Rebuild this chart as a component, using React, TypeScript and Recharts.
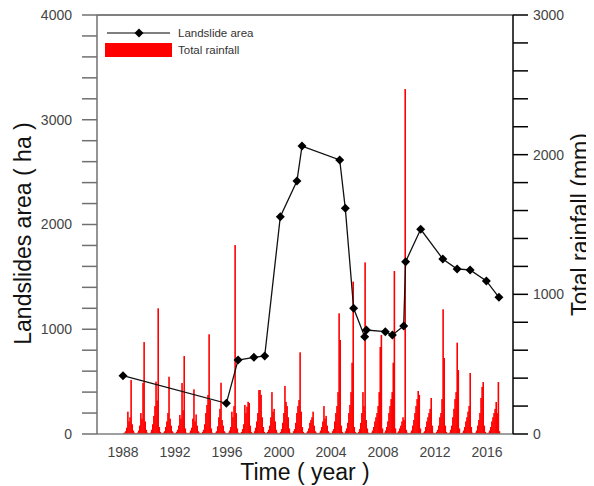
import { ComposedChart, Bar, Line, XAxis, YAxis, Legend, ReferenceLine } from 'recharts'

const FONT = '"Liberation Sans", Arial, sans-serif'

// landslide survey points (fractional year, ha)
const landslideYears = [
  1988.0, 1995.95, 1996.85, 1998.07, 1998.9, 2000.1, 2001.38, 2001.77, 2004.67, 2005.1, 2005.74,
  2006.59, 2006.72, 2008.18, 2008.72, 2009.59, 2009.74, 2010.9, 2012.6, 2013.7, 2014.7, 2015.95, 2016.92,
]
const landslideArea = [
  557, 293, 706, 732, 745, 2074, 2415, 2749, 2616, 2154, 1200,
  929, 993, 977, 945, 1031, 1645, 1954, 1671, 1575, 1566, 1461, 1305,
]

// monthly rainfall (mm), one row per year, Jan..Dec
const rainStartYear = 1988
const monthlyRainfall = [
  [5, 10, 20, 45, 160, 90, 120, 387, 70, 25, 10, 5], // 1988
  [5, 10, 25, 60, 150, 110, 365, 658, 90, 30, 10, 5], // 1989
  [5, 10, 30, 70, 130, 200, 375, 240, 900, 50, 15, 5], // 1990
  [5, 10, 20, 50, 90, 150, 410, 110, 60, 20, 10, 5], // 1991
  [5, 15, 30, 60, 136, 110, 365, 170, 558, 40, 10, 5], // 1992
  [5, 10, 25, 45, 110, 320, 90, 140, 60, 20, 10, 5], // 1993
  [5, 15, 30, 70, 150, 208, 280, 714, 243, 40, 10, 5], // 1994
  [5, 10, 20, 55, 120, 180, 367, 100, 60, 20, 10, 5], // 1995
  [5, 10, 25, 50, 160, 120, 200, 1353, 150, 40, 10, 5], // 1996
  [5, 15, 35, 70, 208, 150, 196, 231, 222, 60, 15, 5], // 1997
  [5, 20, 45, 90, 150, 315, 315, 280, 120, 50, 15, 5], // 1998
  [5, 15, 30, 60, 120, 300, 160, 180, 90, 30, 10, 5], // 1999
  [5, 15, 35, 80, 150, 344, 230, 200, 120, 40, 10, 5], // 2000
  [5, 20, 35, 80, 150, 200, 243, 585, 160, 50, 15, 5], // 2001
  [5, 10, 20, 40, 80, 100, 120, 160, 60, 20, 10, 5], // 2002
  [5, 10, 25, 50, 90, 200, 110, 130, 60, 20, 10, 5], // 2003
  [5, 20, 35, 90, 150, 200, 300, 864, 673, 60, 15, 5], // 2004
  [5, 20, 40, 80, 150, 208, 300, 510, 1091, 50, 15, 5], // 2005
  [5, 15, 35, 80, 150, 300, 200, 1229, 100, 40, 10, 5], // 2006
  [5, 10, 25, 50, 90, 120, 150, 200, 300, 623, 709, 40], // 2007
  [5, 10, 25, 50, 90, 150, 200, 250, 300, 510, 1167, 40], // 2008
  [5, 10, 20, 40, 60, 90, 120, 100, 2470, 30, 10, 5], // 2009
  [5, 10, 25, 60, 100, 150, 200, 250, 308, 280, 40, 5], // 2010
  [5, 10, 20, 50, 90, 120, 150, 180, 258, 60, 10, 5], // 2011
  [5, 15, 30, 60, 120, 150, 250, 893, 544, 60, 15, 5], // 2012
  [5, 10, 30, 60, 120, 180, 250, 300, 654, 458, 40, 5], // 2013
  [5, 10, 25, 50, 90, 120, 160, 200, 437, 50, 10, 5], // 2014
  [5, 10, 25, 60, 100, 150, 258, 337, 372, 60, 15, 5], // 2015
  [5, 10, 25, 50, 90, 120, 150, 180, 229, 150, 372, 20], // 2016
]

const xTicks = [1988, 1992, 1996, 2000, 2004, 2008, 2012, 2016]
const leftTicks = Array.from({ length: 21 }, (_, i) => i * 200)
const rightTicks = Array.from({ length: 16 }, (_, i) => i * 200)

const rainData = monthlyRainfall.flatMap((row, yi) =>
  row.map((rain, m) => ({ x: rainStartYear + yi + (m + 0.5) / 12, rain }))
)
const areaData = landslideYears.map((x, i) => ({ x, area: landslideArea[i] }))

function Diamond(props: any) {
  const { cx, cy } = props
  if (cx == null || cy == null) return <g />
  const r = 4.5
  return <path d={`M${cx},${cy - r}L${cx + r},${cy}L${cx},${cy + r}L${cx - r},${cy}Z`} fill="#000" />
}

// thin spike bar, centred on the month position
function Spike(props: any) {
  const { x, y, width, height } = props
  if (height == null || height <= 0) return <g />
  const w = 1.6
  return <rect x={x + width / 2 - w / 2} y={y} width={w} height={height} fill="#ff0000" />
}

function LegendBox() {
  return (
    <svg width={200} height={36} style={{ display: 'block', fontFamily: FONT }}>
      <line x1={2} y1={8} x2={65} y2={8} stroke="#000" strokeWidth={1.2} />
      <path d="M34,3.5L38.5,8L34,12.5L29.5,8Z" fill="#000" />
      <text x={73} y={12} fontSize={11.5} fill="#333">Landslide area</text>
      <rect x={0} y={18} width={67} height={14} fill="#ff0000" />
      <text x={73} y={29} fontSize={11.5} fill="#333">Total rainfall</text>
    </svg>
  )
}

const leftTitle = ({ viewBox }: any) => {
  const x = viewBox.x + 15
  const y = viewBox.y + viewBox.height / 2 + 9
  return (
    <text x={x} y={y} transform={`rotate(-90, ${x}, ${y})`} textAnchor="middle" dominantBaseline="central"
      fontSize={23} fill="#111" fontFamily={FONT}>Landslides area ( ha )</text>
  )
}

const rightTitle = ({ viewBox }: any) => {
  const x = viewBox.x + 67
  const y = viewBox.y + viewBox.height / 2
  return (
    <text x={x} y={y} transform={`rotate(-90, ${x}, ${y})`} textAnchor="middle" dominantBaseline="central"
      fontSize={23} fill="#111" fontFamily={FONT}>Total rainfall (mm)</text>
  )
}

const bottomTitle = ({ viewBox }: any) => (
  <text x={viewBox.x + viewBox.width / 2} y={viewBox.y + 38} textAnchor="middle" dominantBaseline="central"
    fontSize={23} fill="#111" fontFamily={FONT}>Time ( year )</text>
)

export default function App() {
  return (
    <div style={{ width: 586, height: 478, fontFamily: FONT }}>
      <ComposedChart width={586} height={478} data={rainData} margin={{ top: 7, right: 8, bottom: 8, left: 0 }}>
        <XAxis
          dataKey="x"
          type="number"
          domain={[1986, 2018]}
          allowDataOverflow
          ticks={xTicks}
          interval={0}
          height={44}
          tickLine={false}
          tickSize={6}
          tickMargin={7}
          stroke="#808080"
          strokeWidth={1.5}
          tick={{ fill: '#444', fontSize: 14, fontFamily: FONT }}
          label={bottomTitle}
        />
        <YAxis
          yAxisId="left"
          domain={[0, 4000]}
          ticks={leftTicks}
          interval={0}
          width={89}
          tickSize={15}
          tickMargin={10}
          stroke="#707070"
          strokeWidth={1.5}
          tickFormatter={(v: number) => (v % 1000 === 0 ? String(v) : '')}
          tick={{ fill: '#444', fontSize: 14, fontFamily: FONT }}
          label={leftTitle}
        />
        <YAxis
          yAxisId="right"
          orientation="right"
          domain={[0, 3000]}
          ticks={rightTicks}
          interval={0}
          width={73}
          tickSize={15}
          tickMargin={5}
          stroke="#000"
          strokeWidth={1.5}
          tickFormatter={(v: number) => (v % 1000 === 0 ? String(v) : '')}
          tick={{ fill: '#444', fontSize: 14, fontFamily: FONT }}
          label={rightTitle}
        />
        <ReferenceLine yAxisId="left" y={4000} stroke="#808080" strokeWidth={2} />
        <Bar
          yAxisId="right"
          dataKey="rain"
          name="Total rainfall"
          fill="#ff0000"
          barSize={2}
          shape={Spike}
          isAnimationActive={false}
        />
        <Line
          yAxisId="left"
          data={areaData}
          dataKey="area"
          name="Landslide area"
          stroke="#111"
          strokeWidth={1.3}
          dot={Diamond}
          activeDot={false}
          isAnimationActive={false}
        />
        <Legend
          layout="horizontal"
          align="center"
          verticalAlign="middle"
          content={LegendBox}
          wrapperStyle={{ left: 97, top: 17, width: 200 }}
        />
      </ComposedChart>
    </div>
  )
}
